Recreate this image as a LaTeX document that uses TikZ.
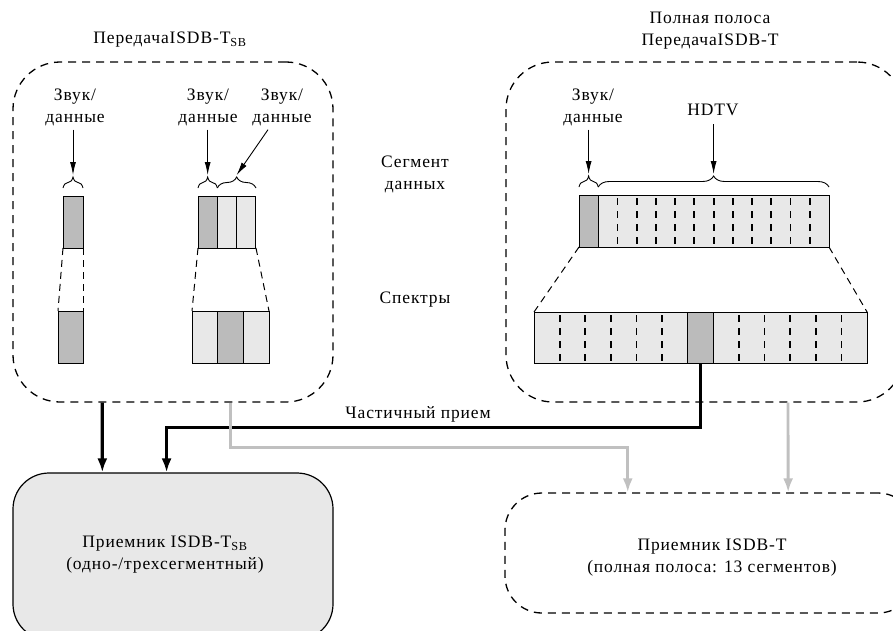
\documentclass[tikz,border=0pt]{standalone}
\usepackage{fontspec}
\setmainfont{Liberation Serif}[LetterSpace=5]
\usetikzlibrary{calc,arrows.meta,decorations.pathreplacing}

\definecolor{segLight}{HTML}{E8E8E8}
\definecolor{segDark}{HTML}{BBBBBB}
\definecolor{wireGray}{HTML}{C0C0C0}

\tikzset{
  segline/.style = {line width=1pt},
  divdash/.style = {dash pattern=on 7pt off 6pt, dash phase=10pt, line width=1.8pt},
  lbl/.style = {font=\fontsize{17.5}{22}\selectfont, align=center, inner sep=0pt},
  grpbox/.style = {draw, dash pattern=on 8pt off 6pt, line width=1.3pt, rounded corners=47pt},
  proj/.style = {dash pattern=on 7pt off 5pt, line width=1pt},
  brc/.style = {decorate, decoration={brace, amplitude=11pt}, line width=0.9pt},
  ptr/.style = {-{Latex[length=13pt,width=6pt]}, line width=0.9pt},
  blkwire/.style = {-{Latex[length=14pt,width=10pt]}, line width=3.2pt},
  graywire/.style = {-{Latex[length=14pt,width=10pt]}, line width=2.8pt, color=wireGray}
}

\pgfkeys{
 /segBar/.is family, /segBar,
 name/.estore in = \sbName,
 n/.estore in = \sbN,
 w/.estore in = \sbW,
 h/.estore in = \sbH,
 dark/.estore in = \sbDark,
 div/.estore in = \sbDiv,
 default/.style =
  {name=bar, n=1, w=20, h=52, dark=1, div=segline}
}
\newcommand{\segBar}[2][]{
    \pgfkeys{/segBar, default, #1}%
    \coordinate (\sbName_nw) at #2;
    \coordinate (\sbName_ne) at ($#2 + (\sbN*\sbW, 0)$);
    \coordinate (\sbName_sw) at ($#2 + (0, \sbH)$);
    \coordinate (\sbName_se) at ($#2 + (\sbN*\sbW, \sbH)$);
    \coordinate (\sbName_dk) at ($#2 + (\sbDark*\sbW - \sbW, 0)$);
    \coordinate (\sbName_dke) at ($(\sbName_dk) + (\sbW, 0)$);
    \coordinate (\sbName_ds) at ($(\sbName_dk) + (0.5*\sbW, \sbH)$);

    \fill[segLight] (\sbName_nw) rectangle (\sbName_se);
    \ifnum\sbN>1
      \pgfmathtruncatemacro{\sbLast}{\sbN-1}
      \foreach \i in {1,...,\sbLast}
        \draw[\sbDiv] ($#2 + (\i*\sbW, 0)$) -- ++(0, \sbH);
    \fi
    \draw[segline, fill=segDark] (\sbName_dk) rectangle ++(\sbW, \sbH);
    \draw[segline] (\sbName_nw) rectangle (\sbName_se);
}

\begin{document}
\begin{tikzpicture}[x=1pt, y=-1pt]
    \useasboundingbox (0,0) rectangle (893,630);

    % transmitter groups
    \node[grpbox, minimum width=320pt, minimum height=340pt] (txSB) at (173,232) {};
    \node[grpbox, minimum width=398pt, minimum height=340pt] (txFull) at (705,232) {};
    \node[lbl] (ttlSB) at (170,40) {ПередачаISDB-T\textsubscript{SB}};
    \node[lbl] (ttlFull) at (710,31) {Полная полоса\\ПередачаISDB-T};

    % segments and spectra
    \segBar[name=oneT, n=1, w=20, dark=1]{(63,196)}
    \segBar[name=oneS, n=1, w=25, dark=1]{(58,311)}
    \segBar[name=thrT, n=3, w=19.33, dark=1]{(198,196)}
    \segBar[name=thrS, n=3, w=25.67, dark=2]{(192,311)}
    \segBar[name=fullT, n=13, w=19.23, dark=1, div=divdash]{(579,195)}
    \segBar[name=fullS, n=13, w=25.62, h=51, dark=7, div=divdash]{(534,312)}

    \draw[proj] (oneT_sw) -- (oneS_nw);
    \draw[proj] (oneT_se) -- (oneS_ne);
    \draw[proj] (thrT_sw) -- (thrS_nw);
    \draw[proj] (thrT_se) -- (thrS_ne);
    \draw[proj] (fullT_sw) -- (fullS_nw);
    \draw[proj] (fullT_se) -- (fullS_ne);

    % braces
    \draw[brc] ($(oneT_nw)+(0,-8)$) -- ($(oneT_ne)+(0,-8)$);
    \draw[brc] ($(thrT_dk)+(0,-8)$) -- ($(thrT_dke)+(0,-8)$);
    \draw[brc] ($(thrT_dke)+(0,-8)$) -- ($(thrT_ne)+(0,-8)$);
    \draw[brc] ($(fullT_dk)+(0,-8)$) -- ($(fullT_dke)+(0,-8)$);
    \draw[brc] ($(fullT_dke)+(0,-8)$) -- ($(fullT_ne)+(0,-8)$);
    \coordinate (oneT_tip) at ($(oneT_nw)!.5!(oneT_ne)+(0,-21)$);
    \coordinate (thrT_tip) at ($(thrT_dk)!.5!(thrT_dke)+(0,-21)$);
    \coordinate (thrT_tip2) at ($(thrT_dke)!.5!(thrT_ne)+(0,-21)$);
    \coordinate (fullT_tip) at ($(fullT_dk)!.5!(fullT_dke)+(0,-21)$);
    \coordinate (fullT_tip2) at ($(fullT_dke)!.5!(fullT_ne)+(0,-21)$);

    % labels
    \node[lbl] (audA) at (75,107) {Звук/\\данные};
    \node[lbl] (audB) at (208,107) {Звук/\\данные};
    \node[lbl] (audC) at (282,107) {Звук/\\данные};
    \node[lbl] (audD) at (593,107) {Звук/\\данные};
    \node[lbl] (hdtv) at (713,110) {HDTV};
    \node[lbl] (segLbl) at (415,174) {Сегмент\\данных};
    \node[lbl] (specLbl) at (415,300) {Спектры};

    \draw[ptr] ([yshift=-4pt]audA.south -| oneT_tip) -- (oneT_tip);
    \draw[ptr] ([yshift=-4pt]audB.south -| thrT_tip) -- (thrT_tip);
    \draw[ptr] ([xshift=-14pt,yshift=-4pt]audC.south) -- (thrT_tip2);
    \draw[ptr] ([yshift=-4pt]audD.south -| fullT_tip) -- (fullT_tip);
    \draw[ptr] ([yshift=-8pt]hdtv.south -| fullT_tip2) -- (fullT_tip2);

    % receivers
    \node[draw, line width=1.2pt, fill=segLight, rounded corners=36pt,
          minimum width=320pt, minimum height=167pt] (rxSB) at (173,556.5) {};
    \node[lbl] (rxSBtxt) at (165,555) {Приемник ISDB-T\textsubscript{SB}\\(одно-/трехсегментный)};
    \node[grpbox, rounded corners=37pt, minimum width=410pt, minimum height=120pt]
          (rxFull) at (710,553) {};
    \node[lbl] (rxFulltxt) at (712,558) {Приемник ISDB-T\\(полная полоса: 13 сегментов)};

    % reception paths
    \draw[blkwire] ($(txSB.south west)!.28!(txSB.south east)$)
        -- ($(rxSB.north west)!.28!(rxSB.north east)$);
    \draw[blkwire] (fullS_ds) |- ($(rxSB.north west)!.48!(rxSB.north east)+(0,-45)$)
        -- ($(rxSB.north west)!.48!(rxSB.north east)$);
    \node[lbl] (partLbl) at (418,414) {Частичный прием};
    \draw[graywire] ($(txSB.south west)!.68!(txSB.south east)$) -- ++(0,45)
        -| ($(rxFull.north west)!.3!(rxFull.north east)$);
    \draw[graywire] ($(txFull.south west)!.708!(txFull.south east)$)
        -- ($(rxFull.north west)!.69!(rxFull.north east)$);
\end{tikzpicture}
\end{document}
